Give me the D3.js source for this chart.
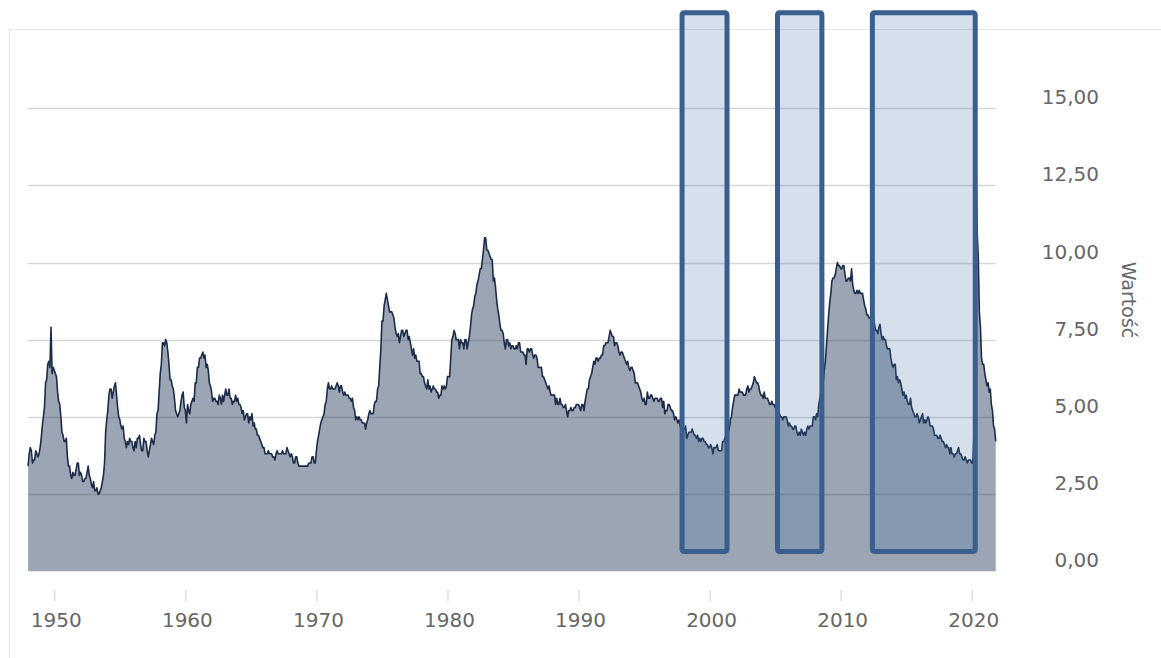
<!DOCTYPE html>
<html>
<head>
<meta charset="utf-8">
<script src="https://cdnjs.cloudflare.com/ajax/libs/d3/7.8.5/d3.min.js"></script>
<style>
  body { margin: 0; background: #fff; }
  svg text { font-family: "DejaVu Sans", sans-serif; fill: #666; }
</style>
</head>
<body>
<svg></svg>
<script>

// monthly unemployment rate, first value = Jan 1948
var startYear = 1948;
var rate1940s = [3.4,3.8,4.0,3.9,3.5,3.6,3.6,3.9,3.8,3.7,3.8,4.0,
                 4.3,4.7,5.0,5.3,6.1,6.2,6.7,6.8,6.6,7.9,6.4,6.6];
var rate1950s = [6.5,6.4,6.3,5.8,5.5,5.4,5.0,4.5,4.4,4.2,4.2,4.3,
                 3.7,3.4,3.4,3.1,3.0,3.2,3.1,3.1,3.3,3.5,3.5,3.1,
                 3.2,3.1,2.9,2.9,3.0,3.0,3.2,3.4,3.1,3.0,2.8,2.7,
                 2.9,2.6,2.6,2.7,2.5,2.5,2.6,2.7,2.9,3.1,3.5,4.5,
                 4.9,5.2,5.7,5.9,5.9,5.6,5.8,6.0,6.1,5.7,5.3,5.0,
                 4.9,4.7,4.6,4.7,4.3,4.2,4.0,4.2,4.1,4.3,4.2,4.2,
                 4.0,3.9,4.2,4.0,4.3,4.3,4.4,4.1,3.9,3.9,4.3,4.2,
                 4.2,3.9,3.7,3.9,4.1,4.3,4.2,4.1,4.4,4.5,5.1,5.2,
                 5.8,6.4,6.7,7.4,7.4,7.3,7.5,7.4,7.1,6.7,6.2,6.2,
                 6.0,5.9,5.6,5.2,5.1,5.0,5.1,5.2,5.5,5.7,5.8,5.3];
var rate1960s = [5.2,4.8,5.4,5.2,5.1,5.4,5.5,5.6,5.5,6.1,6.1,6.6,
                 6.6,6.9,6.9,7.0,7.1,6.9,7.0,6.6,6.7,6.5,6.1,6.0,
                 5.8,5.5,5.6,5.6,5.5,5.5,5.4,5.7,5.6,5.4,5.7,5.5,
                 5.7,5.9,5.7,5.7,5.9,5.6,5.6,5.4,5.5,5.5,5.7,5.5,
                 5.6,5.4,5.4,5.3,5.1,5.2,4.9,5.0,5.1,5.1,4.8,5.0,
                 4.9,5.1,4.7,4.8,4.6,4.6,4.4,4.4,4.3,4.2,4.1,4.0,
                 4.0,3.8,3.8,3.8,3.9,3.8,3.8,3.8,3.7,3.7,3.6,3.8,
                 3.9,3.8,3.8,3.8,3.8,3.9,3.8,3.8,3.8,4.0,3.9,3.8,
                 3.7,3.8,3.7,3.5,3.5,3.7,3.7,3.5,3.4,3.4,3.4,3.4,
                 3.4,3.4,3.4,3.4,3.4,3.5,3.5,3.5,3.7,3.7,3.5,3.5];
var rate1970s = [3.9,4.2,4.4,4.6,4.8,4.9,5.0,5.1,5.4,5.5,5.9,6.1,
                 5.9,5.9,6.0,5.9,5.9,5.9,6.0,6.1,6.0,5.8,6.0,6.0,
                 5.8,5.7,5.8,5.7,5.7,5.7,5.6,5.6,5.5,5.6,5.3,5.2,
                 4.9,5.0,4.9,5.0,4.9,4.9,4.8,4.8,4.8,4.6,4.8,4.9,
                 5.1,5.2,5.1,5.1,5.1,5.4,5.5,5.5,5.9,6.0,6.6,7.2,
                 8.1,8.1,8.6,8.8,9.0,8.8,8.6,8.4,8.4,8.4,8.3,8.2,
                 7.9,7.7,7.6,7.7,7.4,7.6,7.8,7.8,7.6,7.7,7.8,7.8,
                 7.5,7.6,7.4,7.2,7.0,7.2,6.9,7.0,6.8,6.8,6.8,6.4,
                 6.4,6.3,6.3,6.1,6.0,5.9,6.2,5.9,6.0,5.8,5.9,6.0,
                 5.9,5.9,5.8,5.8,5.6,5.7,5.7,6.0,5.9,6.0,5.9,6.0];
var rate1980s = [6.3,6.3,6.3,6.9,7.5,7.6,7.8,7.7,7.5,7.5,7.5,7.2,
                 7.5,7.4,7.4,7.2,7.5,7.5,7.2,7.4,7.6,7.9,8.3,8.5,
                 8.6,8.9,9.0,9.3,9.4,9.6,9.8,9.8,10.1,10.4,10.8,10.8,
                 10.4,10.4,10.3,10.2,10.1,10.1,9.4,9.5,9.2,8.8,8.5,8.3,
                 8.0,7.8,7.8,7.7,7.4,7.2,7.5,7.5,7.3,7.4,7.2,7.3,
                 7.3,7.2,7.2,7.3,7.2,7.4,7.4,7.1,7.1,7.1,7.0,7.0,
                 6.7,7.2,7.2,7.1,7.2,7.2,7.0,6.9,7.0,7.0,6.9,6.6,
                 6.6,6.6,6.6,6.3,6.3,6.2,6.1,6.0,5.9,6.0,5.8,5.7,
                 5.7,5.7,5.7,5.4,5.6,5.4,5.4,5.6,5.4,5.4,5.3,5.3,
                 5.4,5.2,5.0,5.2,5.2,5.3,5.2,5.2,5.3,5.3,5.4,5.4];
var rate1990s = [5.4,5.3,5.2,5.4,5.4,5.2,5.5,5.7,5.9,5.9,6.2,6.3,
                 6.4,6.6,6.8,6.7,6.9,6.9,6.8,6.9,6.9,7.0,7.0,7.3,
                 7.3,7.4,7.4,7.4,7.6,7.8,7.7,7.6,7.6,7.3,7.4,7.4,
                 7.3,7.1,7.0,7.1,7.1,7.0,6.9,6.8,6.7,6.8,6.6,6.5,
                 6.6,6.6,6.5,6.4,6.1,6.1,6.1,6.0,5.9,5.8,5.6,5.5,
                 5.6,5.4,5.4,5.8,5.6,5.6,5.7,5.7,5.6,5.5,5.6,5.6,
                 5.6,5.5,5.5,5.6,5.6,5.3,5.5,5.1,5.2,5.2,5.4,5.4,
                 5.3,5.2,5.2,5.1,4.9,5.0,4.9,4.8,4.9,4.7,4.6,4.7,
                 4.6,4.6,4.7,4.3,4.4,4.5,4.5,4.5,4.6,4.5,4.4,4.4,
                 4.3,4.4,4.2,4.3,4.2,4.3,4.3,4.2,4.2,4.1,4.1,4.0];
var rate2000s = [4.0,4.1,4.0,3.8,4.0,4.0,4.0,4.1,3.9,3.9,3.9,3.9,
                 4.2,4.2,4.3,4.4,4.3,4.5,4.6,4.9,5.0,5.3,5.5,5.7,
                 5.7,5.7,5.7,5.9,5.8,5.8,5.8,5.7,5.7,5.7,5.9,6.0,
                 5.8,5.9,5.9,6.0,6.1,6.3,6.2,6.1,6.1,6.0,5.8,5.7,
                 5.7,5.6,5.8,5.6,5.6,5.6,5.5,5.4,5.4,5.5,5.4,5.4,
                 5.3,5.4,5.2,5.2,5.1,5.0,5.0,4.9,5.0,5.0,5.0,4.9,
                 4.7,4.8,4.7,4.7,4.6,4.6,4.7,4.7,4.5,4.4,4.5,4.4,
                 4.6,4.5,4.4,4.5,4.4,4.6,4.7,4.6,4.7,4.7,4.7,5.0,
                 5.0,4.9,5.1,5.0,5.4,5.6,5.8,6.1,6.1,6.5,6.8,7.3,
                 7.8,8.3,8.7,9.0,9.4,9.5,9.5,9.6,9.8,10.0,9.9,9.9];
var rate2010s = [9.8,9.8,9.9,9.9,9.6,9.4,9.4,9.5,9.5,9.4,9.8,9.3,
                 9.1,9.0,9.0,9.1,9.0,9.1,9.0,9.0,9.0,8.8,8.6,8.5,
                 8.3,8.3,8.2,8.2,8.2,8.2,8.2,8.0,7.8,7.8,7.7,7.9,
                 8.0,7.7,7.5,7.6,7.5,7.5,7.3,7.2,7.2,7.2,6.9,6.7,
                 6.6,6.7,6.7,6.2,6.3,6.1,6.2,6.1,5.9,5.7,5.8,5.6,
                 5.7,5.5,5.4,5.4,5.6,5.3,5.2,5.1,5.0,5.0,5.1,5.0,
                 4.8,4.9,5.0,5.1,4.8,4.9,4.8,4.9,5.0,4.9,4.7,4.7,
                 4.7,4.6,4.4,4.4,4.4,4.3,4.3,4.4,4.3,4.2,4.2,4.1,
                 4.0,4.1,4.0,4.0,3.8,4.0,3.8,3.8,3.7,3.8,3.8,3.9,
                 4.0,3.8,3.8,3.7,3.6,3.6,3.7,3.6,3.5,3.6,3.6,3.6];
var rate2020s = [3.5,3.5,4.4,14.7,13.2,11.0,10.2,8.4,7.9,6.9,6.7,6.7,
                 6.4,6.2,6.0,6.1,5.8,5.9,5.4,5.2,4.7,4.6,4.2];

// highlighted periods (years) and their vertical extent (value units)
var spanStart = [1997.9, 2005.18, 2012.42];
var spanEnd   = [2001.33, 2008.57, 2020.27];
var spanTop = 18.1, spanBottom = 0.63;

var xTicks = [1950, 1960, 1970, 1980, 1990, 2000, 2010, 2020];
var yTicks = [0, 2.5, 5, 7.5, 10, 12.5, 15];
var yTitle = "Wartość";

var rates = [].concat(rate1940s, rate1950s, rate1960s, rate1970s, rate1980s, rate1990s, rate2000s, rate2010s, rate2020s);
var data = rates.map((v, i) => ({ t: startYear + i / 12, v: v }));

var width = 1161, height = 658;
var svg = d3.select('svg')
            .attr('width', width)
            .attr('height', height);

var xScale = d3.scaleLinear().domain([1950, 2020]).range([54.3, 971.7]);
var yScale = d3.scaleLinear().domain([0, 15]).range([571, 108.3]);
var plotLeft = xScale(startYear), plotRight = xScale(d3.max(data, d => d.t));

// panel frame
svg.append('rect')
   .attr('x', 9.5).attr('y', 29.5)
   .attr('width', 1300).attr('height', 800)
   .attr('fill', 'none')
   .attr('stroke', '#e6e6e6');

// gridlines
svg.append('g').selectAll('line')
   .data(yTicks.filter(d => d > 0))
   .enter().append('line')
     .attr('x1', plotLeft).attr('x2', plotRight)
     .attr('y1', d => Math.round(yScale(d)) + 0.5)
     .attr('y2', d => Math.round(yScale(d)) + 0.5)
     .attr('stroke', '#d6d6d6')
     .attr('stroke-width', 1.5);

// area + line
var area = d3.area()
             .x(d => xScale(d.t))
             .y0(yScale(0))
             .y1(d => yScale(d.v));
var line = d3.line()
             .x(d => xScale(d.t))
             .y(d => yScale(d.v));

svg.append('path')
   .datum(data)
   .attr('d', area)
   .attr('fill', 'rgb(30,50,84)')
   .attr('fill-opacity', 0.44);

svg.append('line')
   .attr('x1', plotLeft).attr('x2', plotRight)
   .attr('y1', yScale(0) + 0.5).attr('y2', yScale(0) + 0.5)
   .attr('stroke', '#e4e8ee');

svg.append('path')
   .datum(data)
   .attr('d', line)
   .attr('fill', 'none')
   .attr('stroke', '#1b2b48')
   .attr('stroke-width', 1.6)
   .attr('stroke-linejoin', 'round');

// x axis
var xAxis = d3.axisBottom(xScale)
              .tickValues(xTicks)
              .tickFormat(d3.format('d'))
              .tickSize(11)
              .tickPadding(12);
var gx = svg.append('g')
            .attr('transform', 'translate(0,590)')
            .call(xAxis);
gx.select('.domain').remove();
gx.selectAll('line').attr('stroke', '#cfcfcf');
gx.selectAll('text')
  .attr('x', 1.5)
  .style('font-size', '20px')
  .style('font-family', '"DejaVu Sans", sans-serif')
  .attr('fill', '#666');

// y axis labels (right side)
var fmt = d => d3.format('.2f')(d).replace('.', ',');
svg.append('g').selectAll('text')
   .data(yTicks)
   .enter().append('text')
     .attr('x', 1099)
     .attr('y', d => yScale(d) - 4)
     .attr('text-anchor', 'end')
     .style('font-size', '20px')
     .text(fmt);

svg.append('text')
   .attr('transform', 'translate(1122,300) rotate(90)')
   .attr('text-anchor', 'middle')
   .style('font-size', '19px')
   .text(yTitle);

// highlighted periods
svg.append('g').selectAll('rect')
   .data(spanStart)
   .enter().append('rect')
     .attr('x', d => xScale(d))
     .attr('y', yScale(spanTop))
     .attr('width', (d, i) => xScale(spanEnd[i]) - xScale(d))
     .attr('height', yScale(spanBottom) - yScale(spanTop))
     .attr('rx', 2)
     .attr('fill', 'rgb(64,114,170)')
     .attr('fill-opacity', 0.22)
     .attr('stroke', '#3a5e8e')
     .attr('stroke-width', 5);

</script>
</body>
</html>
